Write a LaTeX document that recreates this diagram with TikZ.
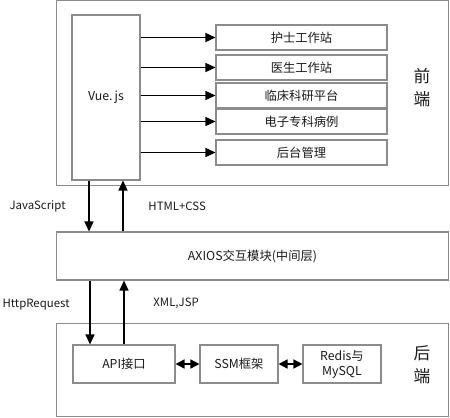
\documentclass[tikz,border=0pt]{standalone}
\usepackage{fontspec}
\setmainfont{Noto Sans CJK SC}
\usepackage{tikz}
\usetikzlibrary{arrows.meta,positioning,calc}
\definecolor{ink}{HTML}{1A1A1A}
\definecolor{frame}{HTML}{8C8C8C}

\begin{document}
\begin{tikzpicture}[
  x=0.02cm, y=-0.02cm,
  every node/.style={font=\fontsize{7}{8.5}\selectfont, text=ink},
  layer/.style={rectangle, draw=frame, line width=0.6pt, inner sep=0pt},
  module/.style={rectangle, draw=frame, line width=0.6pt, minimum width=3.42cm, minimum height=0.5cm, inner sep=2pt},
  part/.style={rectangle, draw=frame, line width=0.6pt, minimum height=0.76cm, align=center, inner sep=2pt},
  side/.style={font=\fontsize{9.5}{13}\selectfont, align=center},
  tag/.style={font=\fontsize{6.5}{8}\selectfont, inner sep=1pt},
  arrow/.style={-{Triangle[length=2mm,width=1.8mm]}, line width=0.8pt, draw=black},
  both/.style={{Triangle[length=1.8mm,width=1.8mm]}-{Triangle[length=1.8mm,width=1.8mm]}, line width=0.8pt, draw=black}
]
\useasboundingbox (0,0) rectangle (450,417);

% front end
\node[layer, minimum width=7.86cm, minimum height=3.7cm] (front) at (252.5,93) {};
\node[layer, minimum width=1.36cm, minimum height=3.3cm] (vue) at (106,97.5) {Vue.\,js};
\node[module] (nurse)  at (301.5,37.5)  {护士工作站};
\node[module] (doctor) at (301.5,67.5)  {医生工作站};
\node[module] (clinic) at (301.5,95.5)  {临床科研平台};
\node[module] (record) at (301.5,121.5) {电子专科病例};
\node[module] (admin)  at (301.5,152.5) {后台管理};
\node[side] (frontlbl) at (422,88) {前\\端};

\foreach \m in {nurse,doctor,clinic,record,admin}
  \draw[arrow] (vue.east |- \m.west) -- (\m.west);

% middle layer
\node[layer, minimum width=7.86cm, minimum height=0.96cm] (axios) at (252.5,256) {AXIOS交互模块(中间层)};

% back end
\node[layer, minimum width=7.86cm, minimum height=1.86cm] (back) at (252.5,370) {};
\node[part, minimum width=2.04cm] (api)   at (124,364) {API接口};
\node[part, minimum width=1.56cm] (ssm)   at (239,364) {SSM框架};
\node[part, minimum width=1.56cm] (store) at (342,364) {Redis与\\MySQL};
\node[side] (backlbl) at (422,365) {后\\端};

\draw[both] (api) -- (ssm);
\draw[both] (ssm) -- (store);

% requests and responses
\coordinate (jsout)   at ([xshift=-0.34cm]vue.south);
\coordinate (htmlin)  at ([xshift=0.34cm]vue.south);
\coordinate (httpout) at ([xshift=-0.68cm]api.north);
\draw[arrow] (jsout) -- node[tag, left=0.42cm] {JavaScript} (jsout |- axios.north);
\draw[arrow] (htmlin |- axios.north) -- node[tag, right=0.46cm] {HTML+CSS} (htmlin);
\draw[arrow] (httpout |- axios.south) -- node[tag, pos=0.38, left=0.36cm] {HttpRequest} (httpout);
\draw[arrow] (api.north) -- node[tag, pos=0.65, right=0.54cm] {XML,JSP} (api.north |- axios.south);
\end{tikzpicture}
\end{document}
